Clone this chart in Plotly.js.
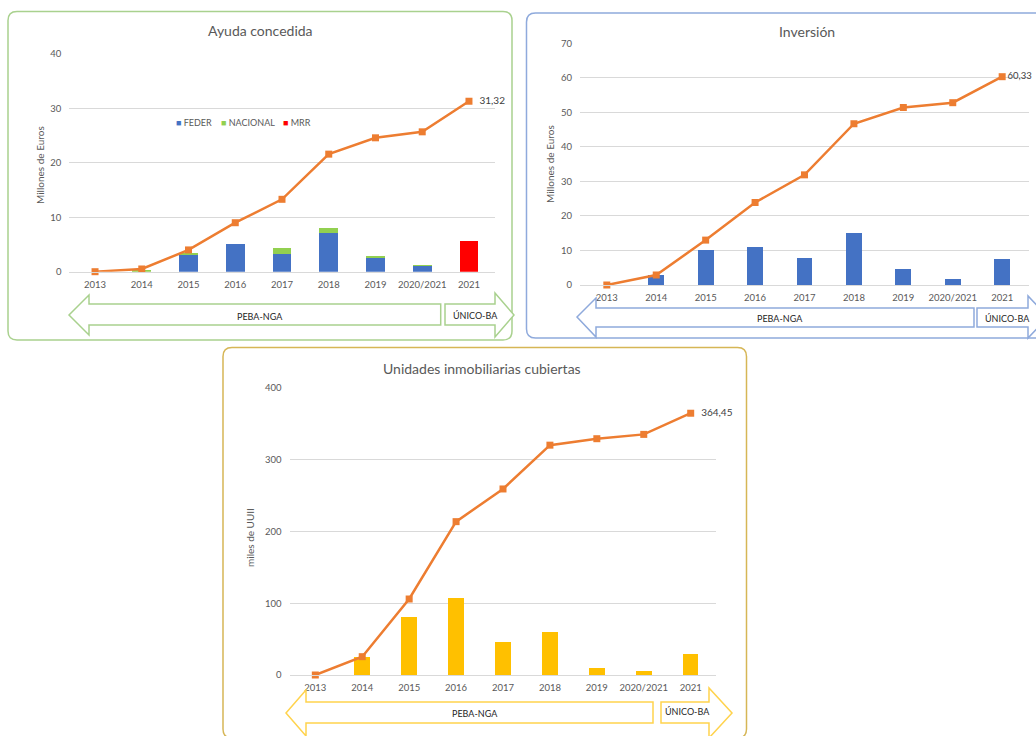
<!DOCTYPE html>
<html>
<head>
<meta charset="utf-8">
<script src="https://cdn.plot.ly/plotly-3.0.1.min.js"></script>
<style>html,body{margin:0;padding:0;background:#fff;}#chart{width:1036px;height:736px;}</style>
</head>
<body>
<div id="chart"></div>
<script>
// ---- Data ----
const categories = ['2013','2014','2015','2016','2017','2018','2019','2020/2021','2021'];

// Ayuda concedida (Millones de Euros)
const ayudaFeder    = [0, 0, 3.0, 5.0, 3.3, 7.1, 2.5, 1.1, 0];
const ayudaNacional = [0, 0.4, 0.5, 0, 1.05, 1.0, 0.4, 0.05, 0];
const ayudaMrr      = [0, 0, 0, 0, 0, 0, 0, 0, 5.56];
const ayudaAcumulada = [0, 0.5, 4.0, 9.0, 13.3, 21.6, 24.6, 25.7, 31.32];

// Inversión (Millones de Euros)
const inversionAnual = [0, 2.8, 10.1, 10.9, 7.9, 15.0, 4.6, 1.6, 7.6];
const inversionAcumulada = [0, 2.9, 13.0, 23.9, 31.9, 46.7, 51.4, 52.8, 60.33];

// Unidades inmobiliarias cubiertas (miles de UUII)
const uuiiAnual = [0, 24.6, 81.2, 106.7, 45.5, 60.3, 9.7, 6.0, 28.8];
const uuiiAcumulada = [0, 25.5, 105.8, 213.5, 259, 320, 329, 335, 364.45];

const titles = ['Ayuda concedida', 'Inversión', 'Unidades inmobiliarias cubiertas'];
const yTitles = ['Millones de Euros', 'Millones de Euros', 'miles de UUII'];
const phaseLabels = ['PEBA-NGA', 'ÚNICO-BA'];
const ayudaSeries = ['FEDER', 'NACIONAL', 'MRR'];
const ayudaColors = ['#4472c4', '#92d050', '#ff0000'];

// ---- Helpers ----
const W = 1036, H = 736;
const fx = x => x / W;
const fy = y => 1 - y / H;
const P = (x, y) => fx(x).toFixed(5) + ',' + fy(y).toFixed(5);
const FONT = 'Lato, "Open Sans", sans-serif';
const GREY = '#595959';
const ORANGE = '#ed7d31';

function lastLabel(arr, pad) {
  return arr.map((v, i) => i === arr.length - 1 ? pad + String(v).replace('.', ',') : '');
}

function roundedBox(x0, y0, x1, y1, r, color) {
  const d = 'M' + P(x0 + r, y0) + ' L' + P(x1 - r, y0) + ' Q' + P(x1, y0) + ' ' + P(x1, y0 + r) +
    ' L' + P(x1, y1 - r) + ' Q' + P(x1, y1) + ' ' + P(x1 - r, y1) +
    ' L' + P(x0 + r, y1) + ' Q' + P(x0, y1) + ' ' + P(x0, y1 - r) +
    ' L' + P(x0, y0 + r) + ' Q' + P(x0, y0) + ' ' + P(x0 + r, y0) + ' Z';
  return {type: 'path', xref: 'paper', yref: 'paper', path: d, line: {color: color, width: 1.5}, fillcolor: 'rgba(0,0,0,0)', layer: 'below'};
}
function leftArrow(tx, ty, hx, ht, hb, bt, bb, ex, color) {
  const d = 'M' + P(tx, ty) + ' L' + P(hx, ht) + ' L' + P(hx, bt) + ' L' + P(ex, bt) +
    ' L' + P(ex, bb) + ' L' + P(hx, bb) + ' L' + P(hx, hb) + ' Z';
  return {type: 'path', xref: 'paper', yref: 'paper', path: d, line: {color: color, width: 1.5}, fillcolor: '#ffffff'};
}
function rightArrow(sx, bt, bb, hx, ht, hb, tx, ty, color) {
  const d = 'M' + P(sx, bt) + ' L' + P(hx, bt) + ' L' + P(hx, ht) + ' L' + P(tx, ty) +
    ' L' + P(hx, hb) + ' L' + P(hx, bb) + ' L' + P(sx, bb) + ' Z';
  return {type: 'path', xref: 'paper', yref: 'paper', path: d, line: {color: color, width: 1.5}, fillcolor: '#ffffff'};
}
function textAnn(text, x, y, size, color, angle, xanchor) {
  return {text: text, xref: 'paper', yref: 'paper', x: fx(x), y: fy(y), xanchor: xanchor || 'center', yanchor: 'middle',
    showarrow: false, textangle: angle || 0, font: {family: FONT, size: size, color: color}};
}
function legendAnn(i, x) {
  return textAnn('<span style="color:' + ayudaColors[i] + '">■</span> ' + ayudaSeries[i], x, 122, 9, GREY, 0, 'left');
}

const lineStyle = {color: ORANGE, width: 2.5};
const markerStyle = {symbol: 'square', size: 7, color: ORANGE};
const labelFont = {family: FONT, size: 10, color: '#404040'};
const PAD2 = '\u00a0\u00a0';

const traces = [
  {type: 'bar', name: ayudaSeries[0], x: categories, y: ayudaFeder, width: 0.4, marker: {color: ayudaColors[0]}, xaxis: 'x', yaxis: 'y'},
  {type: 'bar', name: ayudaSeries[1], x: categories, y: ayudaNacional, width: 0.4, marker: {color: ayudaColors[1]}, xaxis: 'x', yaxis: 'y'},
  {type: 'bar', name: ayudaSeries[2], x: categories, y: ayudaMrr, width: 0.4, marker: {color: ayudaColors[2]}, xaxis: 'x', yaxis: 'y'},
  {type: 'scatter', mode: 'lines+markers+text', name: 'Ayuda acumulada', x: categories, y: ayudaAcumulada, text: lastLabel(ayudaAcumulada, PAD2),
    textposition: 'middle right', textfont: labelFont, cliponaxis: false,
    line: lineStyle, marker: markerStyle, xaxis: 'x', yaxis: 'y'},

  {type: 'bar', name: 'Inversión anual', x: categories, y: inversionAnual, width: 0.32, marker: {color: '#4472c4'}, xaxis: 'x2', yaxis: 'y2'},
  {type: 'scatter', mode: 'lines+markers+text', name: 'Inversión acumulada', x: categories, y: inversionAcumulada, text: lastLabel(inversionAcumulada, ''),
    textposition: 'middle right', textfont: {family: FONT, size: 9.5, color: '#404040'}, cliponaxis: false,
    line: lineStyle, marker: markerStyle, xaxis: 'x2', yaxis: 'y2'},

  {type: 'bar', name: 'UUII anuales', x: categories, y: uuiiAnual, width: 0.33, marker: {color: '#ffc000'}, xaxis: 'x3', yaxis: 'y3'},
  {type: 'scatter', mode: 'lines+markers+text', name: 'UUII acumuladas', x: categories, y: uuiiAcumulada, text: lastLabel(uuiiAcumulada, PAD2),
    textposition: 'middle right', textfont: labelFont, cliponaxis: false,
    line: lineStyle, marker: markerStyle, xaxis: 'x3', yaxis: 'y3'}
];

function xAx(d0, d1, anchor) {
  return {domain: [fx(d0), fx(d1)], anchor: anchor, type: 'category', showgrid: false, zeroline: false,
    showline: true, linecolor: '#d9d9d9', linewidth: 1, ticks: '', ticklabelstandoff: 4,
    tickfont: {family: FONT, size: 9.5, color: GREY}, fixedrange: true};
}
function yAx(top, bottom, range, dtick, anchor) {
  return {domain: [fy(bottom), fy(top)], anchor: anchor, range: range, dtick: dtick, tick0: 0,
    showgrid: true, gridcolor: '#d9d9d9', gridwidth: 1, zeroline: false, showline: false, ticks: '',
    ticklabelstandoff: 7, tickfont: {family: FONT, size: 9.5, color: GREY}, fixedrange: true};
}

const layout = {
  width: W, height: H, autosize: false,
  margin: {l: 0, r: 0, t: 0, b: 0, pad: 0},
  paper_bgcolor: '#ffffff', plot_bgcolor: 'rgba(0,0,0,0)',
  barmode: 'stack',
  font: {family: FONT, color: GREY},
  showlegend: false,
  xaxis: xAx(69.4, 494.6, 'y'),
  yaxis: yAx(54, 271.7, [0, 40], 10, 'x'),
  xaxis2: xAx(580, 1029, 'y2'),
  yaxis2: yAx(43.3, 285, [0, 70], 10, 'x2'),
  xaxis3: xAx(289.6, 716.4, 'y3'),
  yaxis3: yAx(387.7, 675, [0, 400], 100, 'x3'),
  shapes: [
    roundedBox(8, 11.5, 512, 340, 9, '#a9d18e'),
    roundedBox(526.5, 13, 1050, 338, 9, '#8faadc'),
    roundedBox(223, 347.5, 746.5, 738, 9, '#d6b656'),
    // Chart 1 arrows
    leftArrow(69, 315, 89, 295, 335, 304, 325, 440.7, '#a9d18e'),
    rightArrow(445, 304, 325, 495, 293, 337, 514, 315, '#a9d18e'),
    // Chart 2 arrows
    leftArrow(577, 317, 596, 298, 337, 308, 327, 974, '#8faadc'),
    rightArrow(977, 308, 327, 1028, 296, 338, 1048, 317, '#8faadc'),
    // Chart 3 arrows
    leftArrow(286, 713, 306, 690, 736, 702, 723, 653, '#ffd34d'),
    rightArrow(661, 702, 723, 709, 688, 738, 732, 713, '#ffd34d')
  ],
  annotations: [
    textAnn(titles[0], 260, 30, 14, GREY),
    textAnn(titles[1], 807, 32, 14, GREY),
    textAnn(titles[2], 482, 368, 14, GREY),
    textAnn(yTitles[0], 40, 165, 10, GREY, -90),
    textAnn(yTitles[1], 550, 164, 10, GREY, -90),
    textAnn(yTitles[2], 250, 538, 10, GREY, -90),
    legendAnn(0, 174),
    legendAnn(1, 219),
    legendAnn(2, 281),
    textAnn(phaseLabels[0], 260, 316, 9, '#262626'),
    textAnn(phaseLabels[1], 475, 315, 9, '#262626'),
    textAnn(phaseLabels[0], 780, 318, 9, '#262626'),
    textAnn(phaseLabels[1], 1007, 318, 9, '#262626'),
    textAnn(phaseLabels[0], 475, 713, 9, '#262626'),
    textAnn(phaseLabels[1], 687, 711, 9, '#262626')
  ]
};

Plotly.newPlot('chart', traces, layout, {displayModeBar: false, staticPlot: true});
</script>
</body>
</html>
